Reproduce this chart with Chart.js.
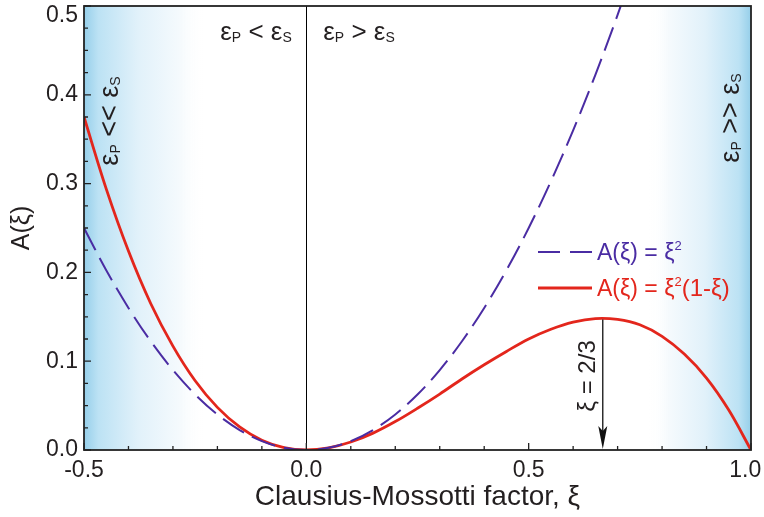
<!DOCTYPE html>
<html>
<head>
<meta charset="utf-8">
<title>A(xi)</title>
<script src="https://cdn.jsdelivr.net/npm/chart.js@4.4.0/dist/chart.umd.min.js"></script>
<style>
  html, body { margin: 0; padding: 0; background: #fff; }
</style>
</head>
<body>
<canvas id="myChart" width="764" height="517"></canvas>
<script>
// Clausius-Mossotti factor values (x axis)
const xiValues = [-0.5, -0.45, -0.4, -0.35, -0.3, -0.25, -0.2, -0.15, -0.1, -0.05, 0,
  0.05, 0.1, 0.15, 0.2, 0.25, 0.3, 0.35, 0.4, 0.45, 0.5,
  0.55, 0.6, 0.65, 0.7, 0.75, 0.8, 0.85, 0.9, 0.95, 1.0];

// dashed purple curve (goes off the top near 0.7)
const squareValues = [0.25, 0.2025, 0.16, 0.1225, 0.09, 0.0625, 0.04, 0.0225, 0.01, 0.0025, 0,
  0.0025, 0.01, 0.0225, 0.04, 0.0625, 0.09, 0.1225, 0.16, 0.2025, 0.25,
  0.3025, 0.36, 0.4225, 0.49, 0.5625];

// solid red curve
const cubicValues = [0.375, 0.294, 0.224, 0.165, 0.117, 0.078, 0.048, 0.026, 0.011, 0.0026, 0,
  0.0024, 0.009, 0.019, 0.032, 0.047, 0.063, 0.080, 0.096, 0.111, 0.125,
  0.136, 0.144, 0.148, 0.147, 0.141, 0.128, 0.108, 0.081, 0.045, 0];

const xTickLabels = [-0.5, 0, 0.5, 1.0];
const yTickLabels = [0, 0.1, 0.2, 0.3, 0.4, 0.5];

const peakXi = 2 / 3;
const peakA = 0.148;

const FONT = '"Liberation Sans", Arial, sans-serif';
const TEXT = '#231f20';
const PURPLE = '#4a2ca3';
const RED = '#e3261c';

function drawParts(ctx, parts, x, y, align) {
  let w = 0;
  parts.forEach(p => { ctx.font = p[1] + 'px ' + FONT; w += ctx.measureText(p[0]).width; });
  let cx = align === 'center' ? x - w / 2 : x;
  ctx.textAlign = 'left';
  ctx.textBaseline = 'alphabetic';
  parts.forEach(p => {
    ctx.font = p[1] + 'px ' + FONT;
    ctx.fillText(p[0], cx, y + p[2]);
    cx += ctx.measureText(p[0]).width;
  });
}

function drawRotated(ctx, parts, cx, cy, base) {
  ctx.save();
  ctx.translate(cx, cy);
  ctx.rotate(-Math.PI / 2);
  drawParts(ctx, parts, 0, base, 'center');
  ctx.restore();
}

function bandGradient(ctx, from, to) {
  const g = ctx.createLinearGradient(from, 0, to, 0);
  g.addColorStop(0, 'rgba(150,207,234,1)');
  g.addColorStop(0.12, 'rgba(188,226,244,1)');
  g.addColorStop(0.45, 'rgba(225,241,250,1)');
  g.addColorStop(0.8, 'rgba(245,250,253,1)');
  g.addColorStop(1, 'rgba(255,255,255,0)');
  return g;
}

const decorations = {
  id: 'decorations',
  beforeDatasetsDraw(chart) {
    const ctx = chart.ctx;
    const area = chart.chartArea;
    const xs = chart.scales.x;
    const h = area.bottom - area.top;
    // blue shaded bands at both ends
    const l1 = xs.getPixelForValue(-0.5), l2 = xs.getPixelForValue(-0.23);
    ctx.fillStyle = bandGradient(ctx, l1, l2);
    ctx.fillRect(l1, area.top, l2 - l1, h);
    const r1 = xs.getPixelForValue(0.77), r2 = xs.getPixelForValue(1.0);
    ctx.fillStyle = bandGradient(ctx, r2, r1);
    ctx.fillRect(r1, area.top, r2 - r1, h);

    // thin line at xi = 0
    const x0 = Math.round(xs.getPixelForValue(0)) + 0.5;
    ctx.strokeStyle = '#000';
    ctx.lineWidth = 1;
    ctx.beginPath();
    ctx.moveTo(x0, area.top);
    ctx.lineTo(x0, area.bottom);
    ctx.stroke();
  },
  afterDatasetsDraw(chart) {
    const ctx = chart.ctx;
    const area = chart.chartArea;
    const xs = chart.scales.x;
    const ys = chart.scales.y;
    ctx.save();

    // frame
    ctx.strokeStyle = '#222';
    ctx.lineWidth = 1.8;
    ctx.strokeRect(area.left, area.top, area.right - area.left, area.bottom - area.top);

    // inward ticks
    ctx.lineWidth = 1.3;
    ctx.beginPath();
    for (let i = 0; i <= 15; i++) {
      const px = xs.getPixelForValue(-0.5 + i * 0.1);
      const len = i % 5 === 0 ? 7 : 4;
      ctx.moveTo(px, area.bottom);
      ctx.lineTo(px, area.bottom - len);
    }
    for (let i = 0; i <= 20; i++) {
      const py = ys.getPixelForValue(i * 0.025);
      const len = i % 4 === 0 ? 7 : 4;
      ctx.moveTo(area.left, py);
      ctx.lineTo(area.left + len, py);
    }
    ctx.stroke();

    // region labels
    ctx.fillStyle = TEXT;
    drawParts(ctx, [['ε', 26, 0], ['P', 14, 2], [' < ', 26, 0], ['ε', 26, 0], ['S', 14, 2]], 256, 40, 'center');
    drawParts(ctx, [['ε', 26, 0], ['P', 14, 2], [' > ', 26, 0], ['ε', 26, 0], ['S', 14, 2]], 359, 40, 'center');
    drawRotated(ctx, [['ε', 27, 0], ['P', 14, 2], [' << ', 27, 0], ['ε', 27, 0], ['S', 14, 2]], 110, 121, 8);
    drawRotated(ctx, [['ε', 27, 0], ['P', 14, 2], [' >> ', 27, 0], ['ε', 27, 0], ['S', 14, 2]], 731, 118, 8);

    // arrow at the maximum
    const ax = xs.getPixelForValue(peakXi);
    const aTop = ys.getPixelForValue(peakA) + 1;
    const aBot = area.bottom - 1;
    ctx.strokeStyle = '#111';
    ctx.lineWidth = 1.3;
    ctx.beginPath();
    ctx.moveTo(ax, aTop);
    ctx.lineTo(ax, aBot - 18);
    ctx.stroke();
    ctx.fillStyle = '#111';
    ctx.beginPath();
    ctx.moveTo(ax, aBot);
    ctx.lineTo(ax - 4.5, aBot - 23);
    ctx.lineTo(ax, aBot - 18);
    ctx.lineTo(ax + 4.5, aBot - 23);
    ctx.closePath();
    ctx.fill();
    ctx.fillStyle = TEXT;
    drawRotated(ctx, [['ξ = 2/3', 24, 0]], ax - 16, 376, 8);

    // legend
    ctx.lineWidth = 2;
    ctx.strokeStyle = PURPLE;
    ctx.setLineDash([22, 10]);
    ctx.beginPath();
    ctx.moveTo(538, 252);
    ctx.lineTo(592, 252);
    ctx.stroke();
    ctx.setLineDash([]);
    ctx.strokeStyle = RED;
    ctx.lineWidth = 2.8;
    ctx.beginPath();
    ctx.moveTo(538, 288);
    ctx.lineTo(592, 288);
    ctx.stroke();
    ctx.fillStyle = PURPLE;
    drawParts(ctx, [['A(ξ) = ξ', 23, 0], ['2', 13, -10]], 597, 260, 'left');
    ctx.fillStyle = RED;
    drawParts(ctx, [['A(ξ) = ξ', 23, 0], ['2', 13, -10], ['(1-ξ)', 24, 0]], 597, 296, 'left');

    ctx.restore();
  }
};

const ctx = document.getElementById('myChart').getContext('2d');

const squareData = squareValues.map((v, i) => ({ x: xiValues[i], y: v }));
const cubicData = cubicValues.map((v, i) => ({ x: xiValues[i], y: v }));

const chart = new Chart(ctx, {
  type: 'line',
  data: {
    datasets: [{
      label: 'A(ξ) = ξ²',
      data: squareData,
      borderColor: PURPLE,
      borderWidth: 2,
      borderDash: [25, 9],
      pointRadius: 0,
      tension: 0.35,
      fill: false
    }, {
      label: 'A(ξ) = ξ²(1-ξ)',
      data: cubicData,
      borderColor: RED,
      borderWidth: 2.8,
      pointRadius: 0,
      tension: 0.35,
      fill: false
    }]
  },
  options: {
    responsive: false,
    animation: false,
    layout: { padding: { left: 0, top: 6, right: 13, bottom: 0 } },
    plugins: {
      legend: { display: false },
      tooltip: { enabled: false }
    },
    scales: {
      x: {
        type: 'linear',
        min: -0.5,
        max: 1.0,
        afterBuildTicks: scale => { scale.ticks = xTickLabels.map(v => ({ value: v })); },
        afterFit: scale => {
          scale.height = 67;
          scale.paddingLeft = 0;
          scale.paddingRight = 0;
        },
        grid: { display: false, drawTicks: false },
        border: { display: false },
        ticks: {
          padding: 7,
          color: TEXT,
          font: { family: FONT, size: 23 },
          // last label is nudged left so it stays inside the page
          callback: v => (v === 1 ? v.toFixed(1) + '\u2002' : v.toFixed(1))
        },
        title: {
          display: true,
          text: 'Clausius-Mossotti factor, ξ',
          color: TEXT,
          font: { family: FONT, size: 28 },
          padding: 3
        }
      },
      y: {
        min: 0,
        max: 0.5,
        afterBuildTicks: scale => { scale.ticks = yTickLabels.map(v => ({ value: v })); },
        afterFit: scale => {
          scale.width = 84;
          scale.paddingTop = 0;
          scale.paddingBottom = 0;
        },
        grid: { display: false, drawTicks: false },
        border: { display: false },
        ticks: {
          padding: 6,
          color: TEXT,
          font: { family: FONT, size: 23, lineHeight: 0.85 },
          // top label sits below its tick, as in the figure
          callback: v => (v === 0.5 ? ['', v.toFixed(1)] : v.toFixed(1))
        },
        title: {
          display: true,
          text: 'A(ξ)',
          color: TEXT,
          font: { family: FONT, size: 25 },
          padding: 7
        }
      }
    }
  },
  plugins: [decorations]
});
</script>
</body>
</html>
